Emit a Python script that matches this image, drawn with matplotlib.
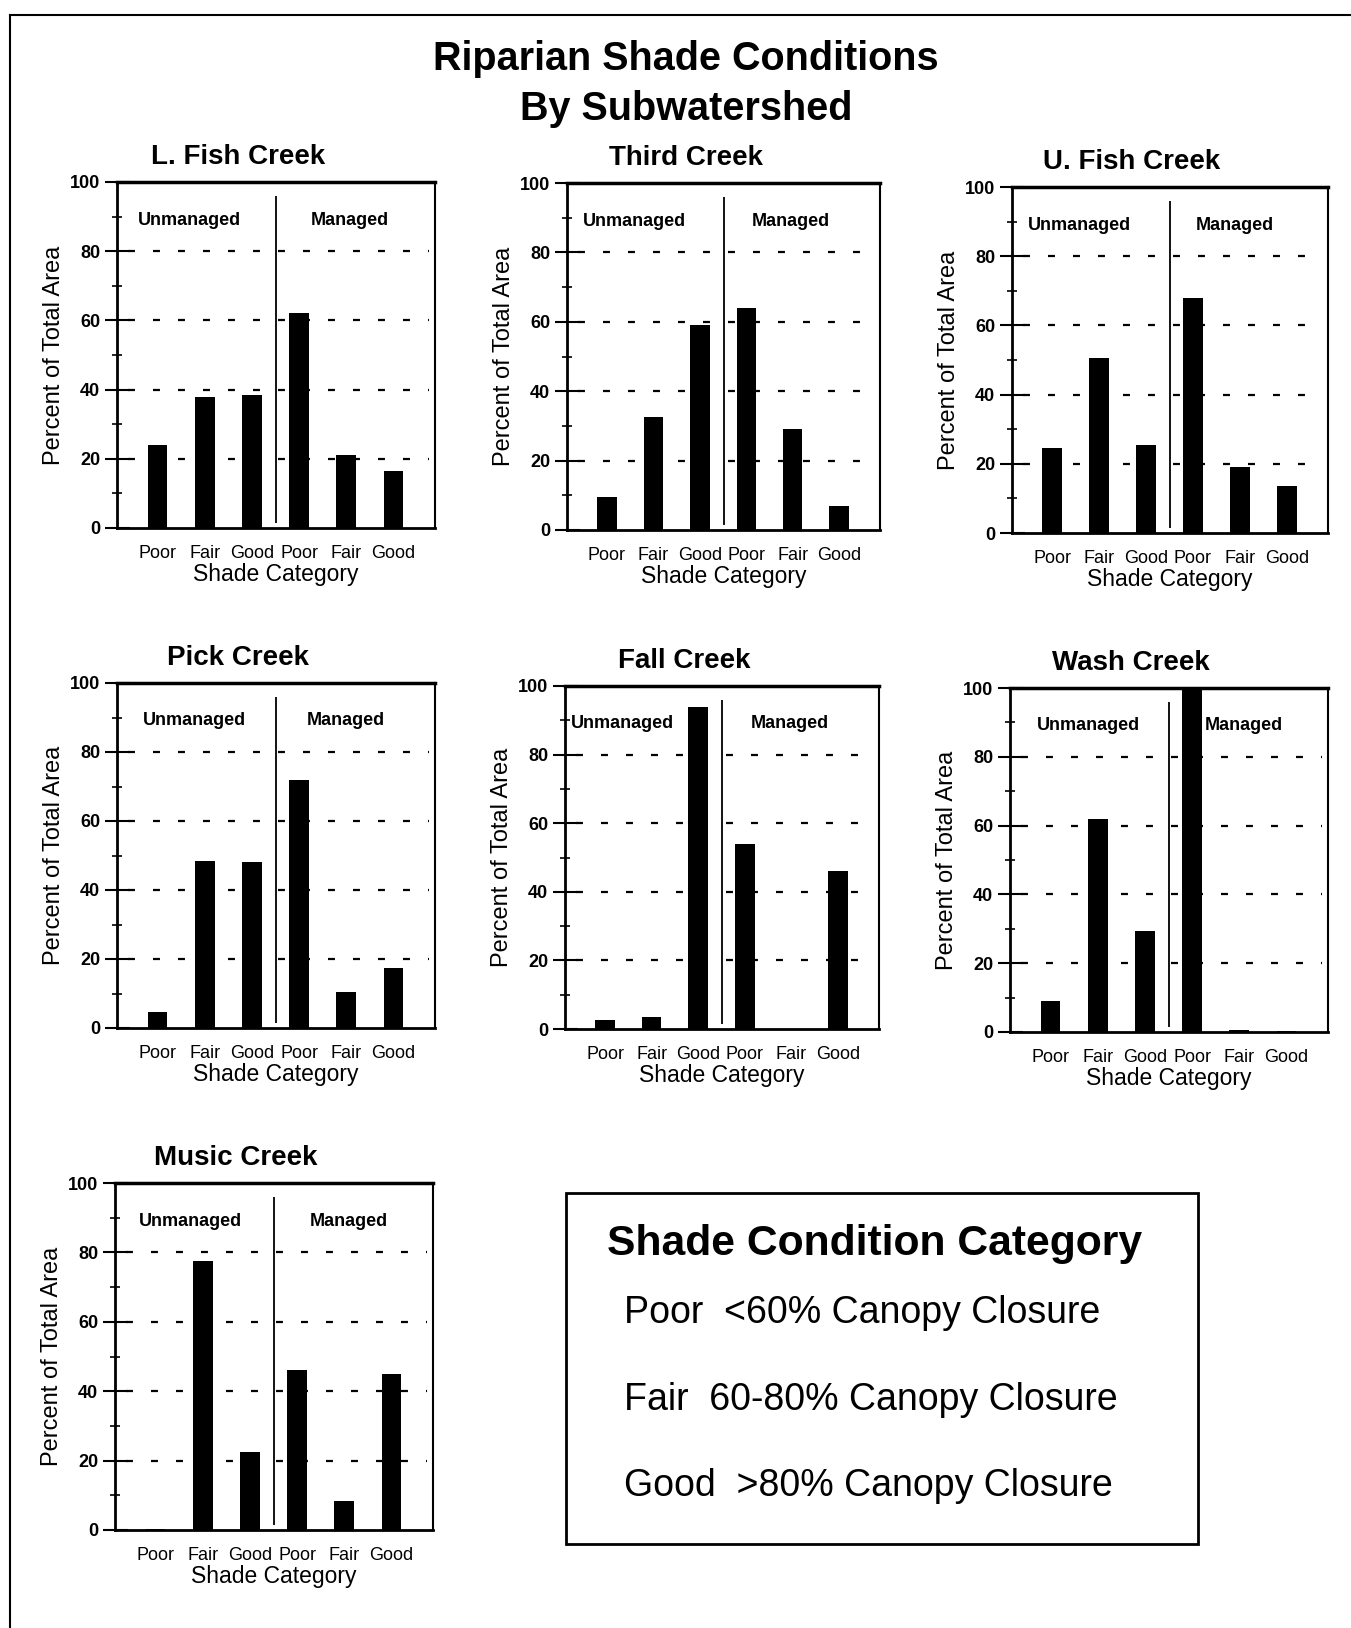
import matplotlib
matplotlib.use("Agg")
import matplotlib.pyplot as plt
from matplotlib.patches import Rectangle
from matplotlib.lines import Line2D

plt.rcParams['font.family'] = ['Liberation Sans', 'DejaVu Sans']
plt.rcParams['lines.scale_dashes'] = False

W, H = 1351, 1628

categories = ["Poor", "Fair", "Good", "Poor", "Fair", "Good"]
creeks = ["L. Fish Creek", "Third Creek", "U. Fish Creek",
          "Pick Creek", "Fall Creek", "Wash Creek", "Music Creek"]

# percent of total area: unmanaged Poor/Fair/Good, then managed Poor/Fair/Good
l_fish = [24, 38, 38.5, 62, 21, 16.5]
third = [9.5, 32.5, 59, 64, 29, 7]
u_fish = [24.5, 50.5, 25.5, 68, 19, 13.5]
pick = [4.5, 48.5, 48, 72, 10.5, 17.5]
fall = [2.5, 3.5, 94, 54, 0, 46]
wash = [9, 62, 29.5, 99.5, 0.6, 0.3]
music = [0.3, 77.5, 22.5, 46, 8.5, 45]
all_values = [l_fish, third, u_fish, pick, fall, wash, music]

legend_title = "Shade Condition Category"
legend_rows = ["Poor  <60% Canopy Closure",
               "Fair  60-80% Canopy Closure",
               "Good  >80% Canopy Closure"]

# axes boxes in pixels: left, top, right, bottom
boxes = [(117, 182, 435, 528), (567, 183, 880, 530), (1012, 187, 1328, 533),
         (117, 683, 435, 1028), (565, 686, 879, 1029), (1010, 688, 1328, 1032),
         (115, 1183, 433, 1530)]
# where the Unmanaged / Managed words sit in each panel
unman_x = [0.68, 0.6, 0.57, 0.78, 0.38, 0.8, 0.74]
man_x = [4.08, 3.96, 3.9, 4.0, 3.96, 4.1, 4.1]


def draw_panel(fig, box, title, values, ux, mx):
    l, t, r, b = box
    ax = fig.add_axes([l / W, 1 - b / H, (r - l) / W, (b - t) / H])
    x = list(range(len(values)))

    ax.hlines([20, 40, 60, 80], -0.62, 5.75, colors='black',
              linestyles=(0, (5, 13)), linewidth=1.6, zorder=1)
    ax.bar(x, values, width=0.42, color='black', zorder=2)
    ax.vlines(2.52, 1.5, 96, color='black', linewidth=1.3, zorder=3)

    ax.text(ux, 89, "Unmanaged", ha='center', va='center', fontsize=13, fontweight='bold')
    ax.text(mx, 89, "Managed", ha='center', va='center', fontsize=13, fontweight='bold')

    ax.set_xlim(-0.86, 5.88)
    ax.set_ylim(0, 100)
    ax.set_yticks([0, 20, 40, 60, 80, 100])
    ax.set_yticks([10, 30, 50, 70, 90], minor=True)
    ax.tick_params(axis='y', which='major', direction='inout', length=18,
                   width=1.5, labelsize=13, pad=3)
    ax.tick_params(axis='y', which='minor', direction='inout', length=7, width=1.2)
    for lbl in ax.get_yticklabels():
        lbl.set_fontweight('bold')

    ax.set_xticks(x)
    ax.set_xticklabels(categories, fontsize=13)
    ax.tick_params(axis='x', length=0, pad=12)

    ax.set_ylabel("Percent of Total Area", fontsize=17, labelpad=4)
    ax.set_xlabel("Shade Category", fontsize=16.5, labelpad=1)

    ax.spines['top'].set_linewidth(2.5)
    ax.spines['left'].set_linewidth(2)
    ax.spines['bottom'].set_linewidth(2)
    ax.spines['right'].set_linewidth(1.5)

    cx = (l + r) / 2 - 38
    fig.text(cx / W, 1 - (t - 25) / H, title, ha='center', va='center',
             fontsize=20, fontweight='bold')
    return ax


def main():
    fig = plt.figure(figsize=(W / 100, H / 100), dpi=100)

    fig.text(686 / W, 1 - 59 / H, "Riparian Shade Conditions", ha='center',
             va='center', fontsize=28.5, fontweight='bold')
    fig.text(686 / W, 1 - 109 / H, "By Subwatershed", ha='center',
             va='center', fontsize=28.5, fontweight='bold')

    # page frame (left and top edge only)
    fig.add_artist(Line2D([10 / W, 10 / W], [0, 1 - 15 / H],
                          transform=fig.transFigure, color='black', lw=1.5))
    fig.add_artist(Line2D([10 / W, 1], [1 - 15 / H, 1 - 15 / H],
                          transform=fig.transFigure, color='black', lw=1.5))

    for box, name, vals, ux, mx in zip(boxes, creeks, all_values, unman_x, man_x):
        draw_panel(fig, box, name, vals, ux, mx)

    # legend box
    fig.add_artist(Rectangle((566 / W, 1 - 1544 / H), (1198 - 566) / W,
                             (1544 - 1193) / H, transform=fig.transFigure,
                             fill=False, lw=2, edgecolor='black'))
    fig.text(607 / W, 1 - 1244 / H, legend_title, ha='left', va='center',
             fontsize=30.7, fontweight='bold')
    for row, y in zip(legend_rows, [1313, 1400, 1486]):
        fig.text(624 / W, 1 - y / H, row, ha='left', va='center', fontsize=27)

    fig.savefig("out.png", dpi=100)


if __name__ == '__main__':
    main()
